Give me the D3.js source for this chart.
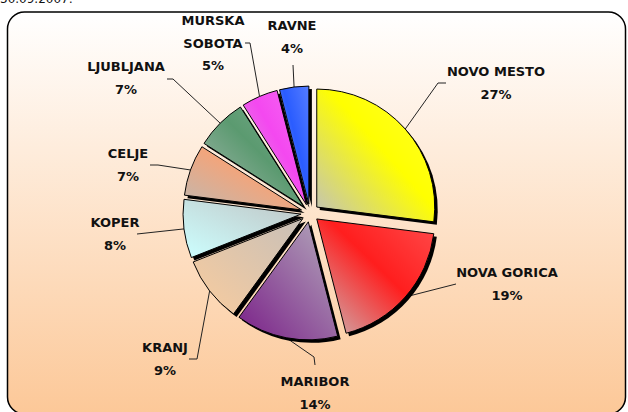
<!DOCTYPE html>
<html>
<head>
<meta charset="utf-8">
<script src="https://cdn.jsdelivr.net/npm/d3@7"></script>
<style>
  body { margin: 0; background: #fff; }
  text { font-family: "Comic Sans MS", "DejaVu Sans", sans-serif; font-weight: bold; font-size: 13px; fill: #111; }
</style>
</head>
<body>
<script>
// data
var cities = ["NOVO MESTO", "NOVA GORICA", "MARIBOR", "KRANJ", "KOPER", "CELJE", "LJUBLJANA", "MURSKA SOBOTA", "RAVNE"];
var shares = [27, 19, 14, 9, 8, 7, 7, 5, 4];
var nameLines = [["NOVO MESTO"], ["NOVA GORICA"], ["MARIBOR"], ["KRANJ"], ["KOPER"], ["CELJE"], ["LJUBLJANA"], ["MURSKA", "SOBOTA"], ["RAVNE"]];
var dateLabel = "30.09.2007:";

// styles
var mainColors = ["#ffff00", "#ff1e1e", "#7a1f88", "#f9cc9e", "#ccffff", "#f2a57c", "#5b9a70", "#f448f0", "#2a5cff"];
var grayColors = ["#c0c0c0", "#c8b8b8", "#b4acbc", "#c8c0b8", "#c0c4c4", "#c0b8b0", "#a8b8b0", "#d8a0d8", "#b0b8d0"];
var colorAtBottomLeft = [false, false, true, true, true, false, false, false, false];

// label layout: text centre x, first baseline y, leader elbow and leader end
var labelLayout = [
  {x: 496, y: 76,  ex: 438, ey: 83,  tx: 446, ty: 83},
  {x: 507, y: 277, ex: 456, ey: 284, tx: 456, ty: 284},
  {x: 315, y: 386, ex: 314, ey: 357, tx: 315, ty: 365},
  {x: 165, y: 352, ex: 197, ey: 359, tx: 189, ty: 359},
  {x: 115, y: 227, ex: 137, ey: 234, tx: 137, ty: 234},
  {x: 128, y: 158, ex: 158, ey: 165, tx: 150, ty: 165},
  {x: 126, y: 71,  ex: 173, ey: 79,  tx: 167, ty: 79},
  {x: 213, y: 25,  ex: 250, ey: 43,  tx: 245, ty: 43},
  {x: 292, y: 30,  ex: 293, ey: 65,  tx: 293, ty: 65}
];

var width = 628, height = 412;
var cx = 310, cy = 213, radius = 118, explode = 9, lineGap = 22.5;

var svg = d3.select("body").append("svg")
  .attr("width", width)
  .attr("height", height);

var defs = svg.append("defs");

var bg = defs.append("linearGradient")
  .attr("id", "bg")
  .attr("x1", 0).attr("y1", 0).attr("x2", 0).attr("y2", 1);
bg.append("stop").attr("offset", 0).attr("stop-color", "#ffffff");
bg.append("stop").attr("offset", 1).attr("stop-color", "#fcc898");

cities.forEach(function(c, i) {
  var g = defs.append("linearGradient")
    .attr("id", "g" + i)
    .attr("x1", 0).attr("y1", 1).attr("x2", 1).attr("y2", 0);
  var light = d3.interpolateRgb(mainColors[i], "#ffffff")(0.2);
  var stops = colorAtBottomLeft[i]
    ? [[0, mainColors[i]], [1, grayColors[i]]]
    : [[0, grayColors[i]], [0.55, mainColors[i]], [1, light]];
  stops.forEach(function(s) {
    g.append("stop").attr("offset", s[0]).attr("stop-color", s[1]);
  });
});

// date text cut by the top edge
svg.append("text")
  .attr("x", 0)
  .attr("y", 3)
  .style("font-family", "DejaVu Sans, sans-serif")
  .style("font-weight", "normal")
  .style("font-size", "12px")
  .text(dateLabel);

// chart frame
svg.append("rect")
  .attr("x", 7.5)
  .attr("y", 12)
  .attr("width", 618)
  .attr("height", 402)
  .attr("rx", 17)
  .attr("fill", "url(#bg)")
  .attr("stroke", "#000")
  .attr("stroke-width", 1.5);

var pie = d3.pie().sort(null).value(function(d) { return d; });
var arcs = pie(shares);

var arc = d3.arc().innerRadius(0).outerRadius(radius);

function offset(d) {
  var a = (d.startAngle + d.endAngle) / 2;
  return [explode * Math.sin(a), -explode * Math.cos(a)];
}

var chart = svg.append("g")
  .attr("transform", "translate(" + cx + "," + cy + ")");

// leader lines
chart.selectAll("polyline.leader")
  .data(arcs)
  .enter()
  .append("polyline")
  .attr("class", "leader")
  .attr("fill", "none")
  .attr("stroke", "#222")
  .attr("stroke-width", 1)
  .attr("points", function(d, i) {
    var o = offset(d);
    var a = (d.startAngle + d.endAngle) / 2;
    var l = labelLayout[i];
    var sx = o[0] + radius * Math.sin(a), sy = o[1] - radius * Math.cos(a);
    return [[sx, sy], [l.ex - cx, l.ey - cy], [l.tx - cx, l.ty - cy]].join(" ");
  });

// shadows
chart.selectAll("path.shadow")
  .data(arcs)
  .enter()
  .append("path")
  .attr("class", "shadow")
  .attr("transform", function(d) {
    var o = offset(d);
    return "translate(" + (o[0] + 3) + "," + (o[1] + 3) + ")";
  })
  .attr("d", arc)
  .attr("fill", "#000");

// slices
chart.selectAll("path.slice")
  .data(arcs)
  .enter()
  .append("path")
  .attr("class", "slice")
  .attr("transform", function(d) {
    var o = offset(d);
    return "translate(" + o[0] + "," + o[1] + ")";
  })
  .attr("d", arc)
  .attr("fill", function(d, i) { return "url(#g" + i + ")"; })
  .attr("stroke", "#000")
  .attr("stroke-width", 1)
  .attr("stroke-linejoin", "round");

// labels
var labels = svg.selectAll("text.label")
  .data(arcs)
  .enter()
  .append("text")
  .attr("class", "label")
  .attr("text-anchor", "middle");

labels.each(function(d, i) {
  var t = d3.select(this);
  var l = labelLayout[i];
  var lines = nameLines[i].concat([shares[i] + "%"]);
  lines.forEach(function(s, k) {
    t.append("tspan")
      .attr("x", l.x)
      .attr("y", l.y + k * lineGap)
      .text(s);
  });
});
</script>
</body>
</html>
